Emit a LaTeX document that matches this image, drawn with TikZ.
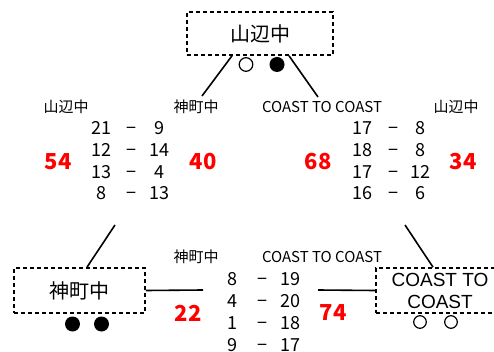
\documentclass[tikz,border=0pt]{standalone}
\usepackage{fontspec}
\setmainfont{Noto Sans CJK JP}
\newfontfamily\latinfont{Liberation Sans}
\usepackage{tikz}
\tikzset{
  team/.style={draw, dash pattern=on 4pt off 3pt, line width=1.6pt, inner sep=0pt},
  teamname/.style={font=\fontsize{15}{15}\selectfont},
  score/.style={font=\fontsize{18}{18}\selectfont, text height=13.2pt, text depth=0pt},
  total/.style={text=red, font=\bfseries\fontsize{22}{22}\selectfont},
  link/.style={line width=1.6pt}
}

\begin{document}
\begin{tikzpicture}[x=1pt,y=-1pt]
\useasboundingbox (0,0) rectangle (494,352);

% boxes
\node[team, minimum width=146pt, minimum height=43pt, font=\fontsize{20}{20}\selectfont]
  (champ) at (260,33.5) {山辺中};
\node[team, minimum width=131pt, minimum height=45pt, font=\fontsize{20}{20}\selectfont]
  (left) at (79.5,290.5) {神町中};
\node[team, minimum width=128pt, minimum height=45pt, align=center,
  font=\latinfont\fontsize{19}{22}\selectfont]
  (right) at (440,290.5) {COAST TO\\COAST};

% wins and losses
\draw[line width=1.2pt] (246,64.5) circle (6.8pt);
\fill (277,64.5) circle (7.5pt);
\fill (72.5,324) circle (7.5pt) (101.5,324) circle (7.5pt);
\draw[line width=1.2pt] (420,322) circle (6.3pt) (451,322) circle (6.3pt);

% links
\coordinate (semi left) at (202,96);
\coordinate (semi right) at (318,97);
\coordinate (final left) at (203,290);
\coordinate (final right) at (318,290);
\coordinate (up left) at (115,225);
\coordinate (up right) at (405,225);
\draw[link] ([xshift=-28pt]champ.south) -- (semi left);
\draw[link] ([xshift=29pt]champ.south) -- (semi right);
\draw[link] ([xshift=7.5pt]left.north) -- (up left);
\draw[link] ([xshift=-7pt]right.north) -- (up right);
\draw[link] (left.east) -- (final left);
\draw[link] (final right) -- (right.west);

% names
\node[teamname] (sl a) at (66,107) {山辺中};
\node[teamname] (sl b) at (196,107) {神町中};
\node[teamname] (sr a) at (322,107) {COAST TO COAST};
\node[teamname] (sr b) at (456,107) {山辺中};
\node[teamname] (f a) at (196,257) {神町中};
\node[teamname] (f b) at (322,257) {COAST TO COAST};

% scores
\foreach \a/\b [count=\i] in {21/9,12/14,13/4,8/13}
  \node[score] at (101,106.5+21.7*\i) {\a}
    node[score] at (131,106.5+21.7*\i) {−}
    node[score] at (159,106.5+21.7*\i) {\b};
\foreach \a/\b [count=\i] in {17/8,18/8,17/12,16/6}
  \node[score] at (362,106.5+21.7*\i) {\a}
    node[score] at (393,106.5+21.7*\i) {−}
    node[score] at (420,106.5+21.7*\i) {\b};
\foreach \a/\b [count=\i] in {8/19,4/20,1/18,9/17}
  \node[score] at (232,257.3+21.8*\i) {\a}
    node[score] at (262,257.3+21.8*\i) {−}
    node[score] at (290,257.3+21.8*\i) {\b};

% totals
\node[total] (t1) at (58,162) {54};
\node[total] (t2) at (203,162) {40};
\node[total] (t3) at (318,162) {68};
\node[total] (t4) at (463,162) {34};
\node[total] (t5) at (188,313) {22};
\node[total] (t6) at (333,313) {74};

\end{tikzpicture}
\end{document}
